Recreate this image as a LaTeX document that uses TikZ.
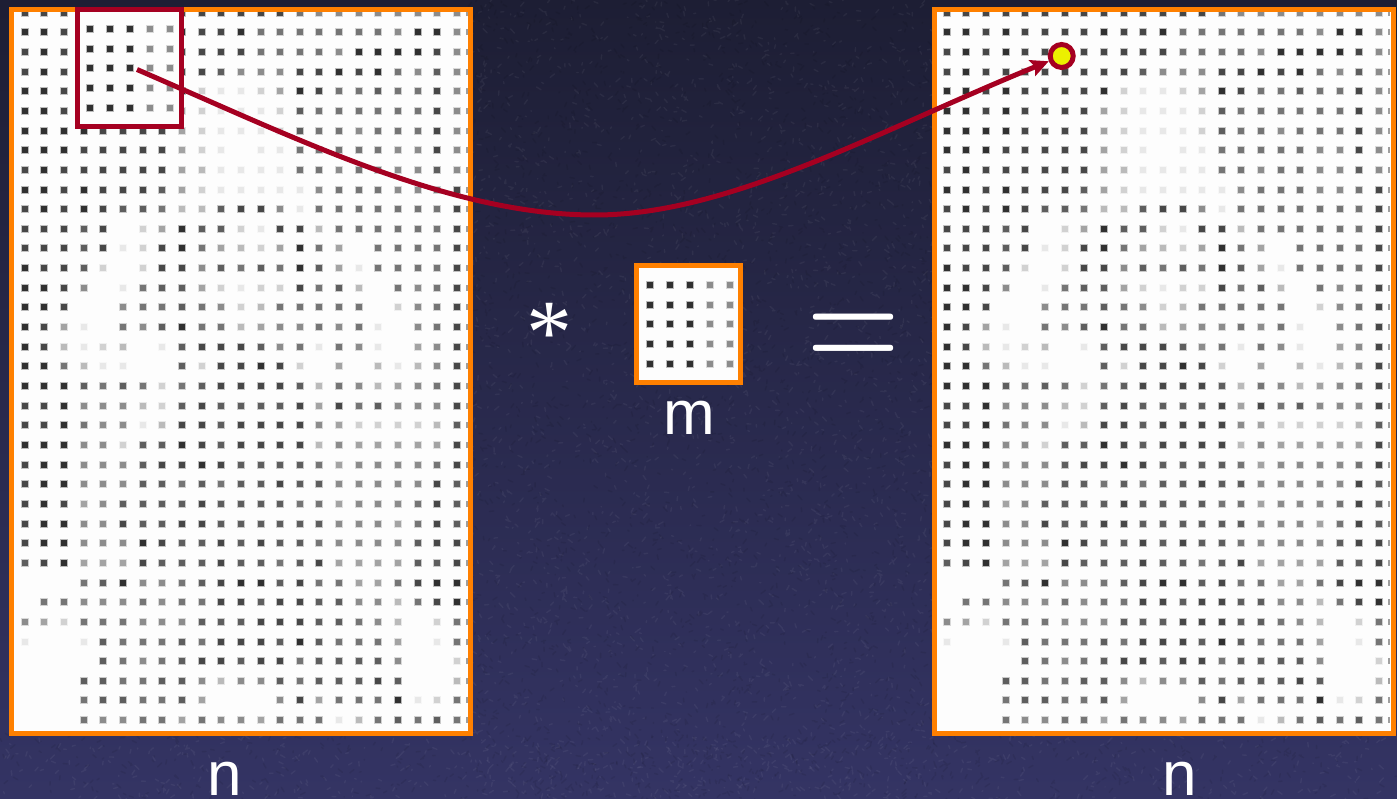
\documentclass[tikz,border=0pt]{standalone}
\usepackage{fontspec}
\usepackage{graphicx}
\newfontfamily\labelfont{Liberation Sans}
\newfontfamily\starfont{Liberation Serif}
\usetikzlibrary{arrows.meta}
\definecolor{framecol}{RGB}{255,128,0}
\definecolor{markcol}{RGB}{165,0,33}
\definecolor{spotcol}{RGB}{236,240,0}
\definecolor{navytop}{RGB}{29,30,52}
\definecolor{navymid}{RGB}{44,44,84}
\definecolor{navybot}{RGB}{52,52,100}
\definecolor{paper}{RGB}{253,253,253}
\tikzset{
  framebox/.style={draw=framecol,line width=5pt,fill=paper,line join=miter},
  markbox/.style={draw=markcol,line width=5pt,fill=paper,line join=miter},
  sizelabel/.style={text=white,inner sep=0pt,font=\labelfont\fontsize{62}{62}\selectfont},
  opsign/.style={text=white,inner sep=0pt},
  target/.style={circle,draw=markcol,fill=spotcol,line width=5pt,minimum size=23pt,inner sep=0pt},
  link/.style={draw=markcol,line width=5pt,-{Stealth[length=18pt,width=17pt,inset=3.5pt]}}
}
% one printed dot: x, y, darkness digit
\newcommand{\printdot}[3]{%
  \ifnum#3>0\relax
    \pgfmathsetmacro{\kcore}{#3*9.0}%
    \pgfmathsetmacro{\khalo}{#3*3.0}%
    \fill[black!\khalo] (#1-4,#2-4) rectangle (#1+4,#2+4);
    \fill[black!\kcore] (#1-3,#2-3) rectangle (#1+3,#2+3);
  \fi}
\newcommand{\gridrows}{%
{8,8,8,8,8,8,8,8,8,8,8,8,8,8,6,5,5,5,5,5,5,5,5},
{9,9,8,9,8,8,8,8,9,8,8,9,6,6,6,6,6,6,6,5,9,9,5},
{8,9,8,9,8,8,8,8,8,8,8,8,6,6,6,6,5,9,9,9,9,8,5},
{8,9,8,8,8,8,8,8,8,8,7,5,5,5,8,8,9,8,9,6,5,7,5},
{9,9,8,9,8,8,8,8,9,2,1,1,2,4,9,8,6,6,7,6,6,8,5},
{9,9,8,9,8,8,8,8,4,2,1,1,1,2,7,6,6,6,6,6,6,8,5},
{9,9,9,9,8,8,8,8,4,2,1,1,1,2,7,6,6,5,6,6,6,8,5},
{9,9,9,8,8,8,8,8,4,2,1,0,1,1,6,6,6,6,6,5,5,8,5},
{8,9,8,8,8,8,8,8,4,3,1,1,1,1,6,6,5,6,6,5,5,7,5},
{9,9,8,9,8,8,8,7,4,2,1,1,1,1,1,5,6,6,6,5,5,6,8},
{8,9,8,9,8,7,7,6,3,3,7,8,8,5,1,6,6,6,6,6,6,6,8},
{8,8,8,7,8,0,2,4,9,7,7,2,1,8,8,3,6,6,6,6,6,6,8},
{8,8,8,7,8,1,2,8,9,6,4,3,2,4,9,6,4,0,6,6,6,6,8},
{9,8,8,7,2,0,2,8,8,5,7,6,7,6,9,7,4,1,6,6,6,6,8},
{9,9,8,5,0,1,6,7,7,4,2,1,2,2,8,6,7,3,0,6,5,6,8},
{9,9,8,0,0,5,6,6,7,6,5,2,3,6,6,6,6,6,0,2,5,6,8},
{9,8,4,1,0,6,5,7,9,6,6,3,4,5,5,6,5,6,1,0,5,6,8},
{9,8,3,1,2,3,0,1,7,8,8,8,7,5,6,1,6,5,1,0,4,5,8},
{9,9,6,3,1,1,0,0,7,2,8,8,9,8,2,0,4,0,3,1,3,5,8},
{9,9,9,7,6,7,6,2,6,7,8,8,8,8,7,3,6,5,3,4,5,6,8},
{8,8,9,5,5,5,3,2,7,8,7,7,7,7,8,4,8,6,7,5,5,5,8},
{8,8,9,6,5,5,1,3,8,8,7,8,8,8,8,5,4,2,2,2,2,3,7},
{9,9,9,5,5,2,7,7,9,8,7,8,8,8,8,3,5,4,4,4,4,4,8},
{8,9,9,5,5,5,7,8,8,9,8,7,7,7,7,6,4,5,5,5,5,6,8},
{8,9,9,5,5,5,7,7,6,7,6,7,7,8,7,7,5,5,5,5,5,8,7},
{8,9,8,4,5,7,7,7,7,8,7,7,7,7,6,6,4,5,5,5,6,8,7},
{8,9,9,5,5,8,7,7,8,8,7,7,7,7,7,7,5,5,5,4,6,8,7},
{8,9,9,5,5,5,9,8,7,7,8,7,8,7,7,6,5,5,5,5,7,8,8},
{7,8,9,4,4,4,8,7,7,7,8,7,7,6,7,8,4,4,4,4,7,7,8},
{0,0,0,6,7,9,5,5,6,7,8,9,9,7,8,6,6,4,4,6,8,9,9},
{0,6,6,5,5,5,6,5,6,6,8,8,7,8,8,7,7,5,5,3,6,8,9},
{5,4,2,6,6,6,5,5,5,7,7,7,8,8,8,7,7,6,5,3,0,2,6},
{1,0,0,1,7,6,6,6,7,6,8,8,8,7,9,7,6,6,6,4,0,1,6},
{0,0,0,0,7,6,5,6,7,8,8,7,8,8,6,7,7,7,7,5,0,0,2},
{0,0,0,7,7,6,6,7,7,5,3,5,5,7,6,7,7,7,8,7,0,0,3},
{0,0,0,6,7,7,6,6,7,4,0,0,0,5,8,4,6,6,6,9,1,2,6},
{0,0,0,6,5,5,6,6,4,6,5,5,4,6,6,6,1,3,6,7,6,7,6}}
\newcommand{\dotgrid}[1]{%
  \edef\allrows{\gridrows}%
  \foreach \rw [count=\r from 0] in \allrows {%
    \pgfmathsetmacro{\yy}{12.7+19.65*\r}%
    \foreach \dk [count=\c from 0] in \rw {%
      \pgfmathsetmacro{\xx}{#1+24.7+19.65*\c}%
      \printdot{\xx}{\yy}{\dk}%
    }%
    \fill[black!38] ({#1+465.6},\yy-3) rectangle ({#1+468},\yy+3);
  }}
% the 5x5 mask: origin x, origin y of the first dot
\newcommand{\maskdots}[2]{%
  \foreach \dk [count=\c from 0] in {9,9,9,5,5} {%
    \foreach \r in {0,...,4} {%
      \pgfmathsetmacro{\xx}{#1+20*\c}%
      \pgfmathsetmacro{\yy}{#2+19.9*\r}%
      \printdot{\xx}{\yy}{\dk}%
    }%
  }}
\begin{document}
\begin{tikzpicture}[x=1pt,y=-1pt]
\useasboundingbox (0,0) rectangle (1397,799);
\shade[top color=navytop,middle color=navymid,bottom color=navybot] (0,0) rectangle (1397,799);
% leathery background grain
\pgfmathsetseed{4711}
\begin{scope}
\clip (0,0) rectangle (1397,799);
\draw[white,opacity=.05,line width=1.4pt,line cap=round]
  \foreach \i in {1,...,2200} {
    ({470+rnd*465},{rnd*799}) coordinate (g) -- ++({rnd*9-4.5},{rnd*9-4.5})
  };
\draw[black,opacity=.08,line width=1.4pt,line cap=round]
  \foreach \i in {1,...,2200} {
    ({470+rnd*465},{rnd*799}) coordinate (g) -- ++({rnd*9-4.5},{rnd*9-4.5})
  };
\draw[white,opacity=.05,line width=1.4pt,line cap=round]
  \foreach \i in {1,...,500} {
    ({rnd*1397},{735+rnd*64}) coordinate (g) -- ++({rnd*9-4.5},{rnd*9-4.5})
  };
\draw[black,opacity=.08,line width=1.4pt,line cap=round]
  \foreach \i in {1,...,500} {
    ({rnd*1397},{735+rnd*64}) coordinate (g) -- ++({rnd*9-4.5},{rnd*9-4.5})
  };
\end{scope}
% source image
\fill[paper] (11,9.7) rectangle (470,733);
\dotgrid{0}
\draw[framecol,line width=5pt] (11,9.7) rectangle (470,733);
% result image
\fill[paper] (934,9.7) rectangle (1393,733);
\dotgrid{922}
\draw[framecol,line width=5pt] (934,9.7) rectangle (1393,733);
% window on source
\draw[markbox] (77,9.7) rectangle (181.5,126.8);
\maskdots{89.7}{28.7}
% mask
\draw[framebox] (636,265.7) rectangle (740.5,382.7);
\maskdots{650}{284.7}
% labels
\node[sizelabel] (nleft) at (224.5,779) {n};
\node[sizelabel] (nright) at (1179.5,779) {n};
\node[sizelabel] (mlabel) at (689,418) {m};
\node[opsign,font=\starfont\fontsize{92}{92}\selectfont] (star) at (549,333.5) {*};
\node[opsign] (equals) at (854,345.5) {\scalebox{1}[1.37]{\fontsize{128}{128}\selectfont =}};
% connector
\coordinate (source) at (137,69.5);
\node[target] (hit) at (1061.7,56) {};
\coordinate (low) at (595,215);
\draw[link] (source) .. controls (300,140) and (450,215) .. (low)
  .. controls (730,215) and (880,130) .. (hit);
\end{tikzpicture}
\end{document}
